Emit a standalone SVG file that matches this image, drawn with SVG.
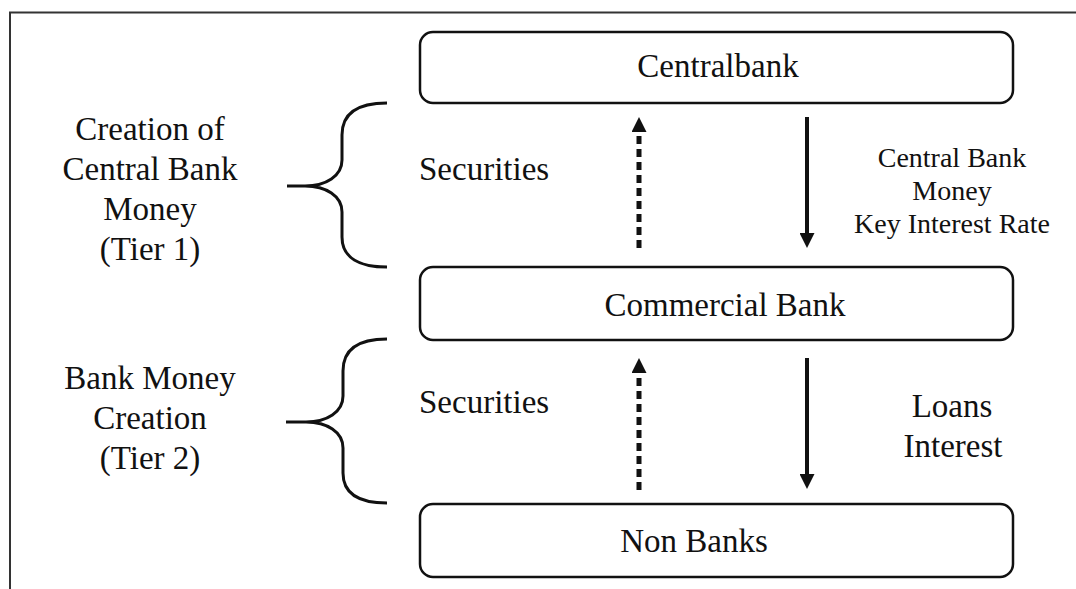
<svg xmlns="http://www.w3.org/2000/svg" width="1076" height="589" viewBox="0 0 1076 589">
  <style>
    .frame { fill: none; stroke: #333; stroke-width: 2; }
    .box { fill: #fff; stroke: #111; stroke-width: 2.5; }
    .t { font-family: "Liberation Serif", "Times New Roman", serif; font-size: 33px; fill: #111; }
    .ts { font-family: "Liberation Serif", "Times New Roman", serif; font-size: 28px; fill: #111; }
    .mid { text-anchor: middle; }
    .brace { fill: none; stroke: #111; stroke-width: 3; stroke-linecap: butt; }
    .dash { stroke: #111; stroke-width: 5; stroke-dasharray: 8 5; fill: none; }
    .solid { stroke: #111; stroke-width: 4; fill: none; }
  </style>
  <defs>
    <marker id="ah" markerUnits="userSpaceOnUse" markerWidth="15" markerHeight="15" refX="0" refY="7.5" orient="auto">
      <path d="M0,0 L15,7.5 L0,15 z" fill="#111"/>
    </marker>
  </defs>
  <rect width="1076" height="589" fill="#fff"/>
  <rect class="frame" x="10" y="12.5" width="1100" height="620"/>

  <g id="centralbank">
    <rect class="box" x="420" y="32" width="593" height="71" rx="13"/>
    <text class="t mid" x="718" y="77">Centralbank</text>
  </g>
  <g id="commercial-bank">
    <rect class="box" x="420" y="267" width="593" height="73" rx="13"/>
    <text class="t mid" x="725" y="316">Commercial Bank</text>
  </g>
  <g id="non-banks">
    <rect class="box" x="420" y="504" width="593" height="73" rx="13"/>
    <text class="t mid" x="694" y="552">Non Banks</text>
  </g>

  <g id="tier1-label">
    <text class="t mid" x="150" y="140">Creation of</text>
    <text class="t mid" x="150" y="180">Central Bank</text>
    <text class="t mid" x="150" y="220">Money</text>
    <text class="t mid" x="150" y="260">(Tier 1)</text>
  </g>
  <g id="tier2-label">
    <text class="t mid" x="150" y="389">Bank Money</text>
    <text class="t mid" x="150" y="429">Creation</text>
    <text class="t mid" x="150" y="469">(Tier 2)</text>
  </g>

  <g id="brace1">
    <path class="brace" d="M387,103 C360,103 342,112 342,135 L342,160 C342,176 326,186 305,186 L287,186 M305,186 C326,186 342,196 342,212 L342,237 C342,258 360,267 387,267"/>
  </g>
  <g id="brace2">
    <path class="brace" d="M387,339 C360,339 343,348 343,371 L343,396 C343,412 327,422 306,422 L286,422 M306,422 C327,422 343,432 343,448 L343,473 C343,494 360,503 387,503"/>
  </g>

  <g id="labels">
    <text class="t" x="419" y="180">Securities</text>
    <text class="ts mid" x="952" y="167">Central Bank</text>
    <text class="ts mid" x="952" y="200">Money</text>
    <text class="ts mid" x="952" y="233">Key Interest Rate</text>
    <text class="t" x="419" y="413">Securities</text>
    <text class="t mid" x="952" y="417">Loans</text>
    <text class="t mid" x="953" y="457">Interest</text>
  </g>

  <g id="connectors">
    <line class="dash" x1="639" y1="248" x2="639" y2="132" marker-end="url(#ah)"/>
    <line class="solid" x1="807" y1="117" x2="807" y2="233" marker-end="url(#ah)"/>
    <line class="dash" x1="639" y1="490" x2="639" y2="373" marker-end="url(#ah)"/>
    <line class="solid" x1="807" y1="358" x2="807" y2="474" marker-end="url(#ah)"/>
  </g>
</svg>
